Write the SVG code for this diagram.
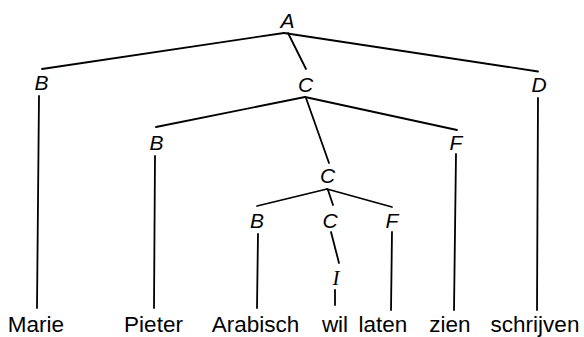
<svg xmlns="http://www.w3.org/2000/svg" width="584" height="337" viewBox="0 0 584 337">
  <style>
    .edge { stroke: #000; stroke-width: 1.8; fill: none; stroke-linecap: round; }
    .cat { font-family: "Liberation Sans", Arial, sans-serif; font-style: italic; font-size: 21px; fill: #000; text-anchor: middle; }
    .cat-serif { font-family: "Liberation Serif", "Times New Roman", serif; font-style: italic; font-size: 21px; fill: #000; text-anchor: middle; }
    .word { font-family: "Liberation Sans", Arial, sans-serif; font-size: 22.5px; fill: #000; text-anchor: middle; }
  </style>
  <rect width="584" height="337" fill="#fff"/>

  <!-- connectors -->
  <g id="connectors" class="edge">
    <!-- A -->
    <line x1="284" y1="33" x2="42" y2="69"/>
    <line x1="284" y1="33" x2="538" y2="71.5"/>
    <line x1="288" y1="33" x2="306" y2="69"/>
    <!-- C (level 2) -->
    <line x1="305" y1="97" x2="156" y2="127"/>
    <line x1="305" y1="97" x2="457" y2="130"/>
    <line x1="306" y1="98" x2="329" y2="163"/>
    <!-- C (level 4) -->
    <line x1="327" y1="189" x2="257" y2="206"/>
    <line x1="327" y1="189" x2="392" y2="207"/>
    <line x1="328" y1="190" x2="333" y2="205"/>
    <!-- C to I -->
    <line x1="331" y1="232" x2="339" y2="263"/>
    <!-- leaves -->
    <line x1="39" y1="96" x2="37" y2="308"/>
    <line x1="155" y1="156" x2="154" y2="308"/>
    <line x1="258" y1="234" x2="257" y2="308"/>
    <line x1="335" y1="290" x2="335" y2="305"/>
    <line x1="392" y1="232" x2="391" y2="310"/>
    <line x1="456" y1="154" x2="454" y2="310"/>
    <line x1="538" y1="98" x2="537" y2="310"/>
  </g>

  <!-- category nodes -->
  <g id="n-A"><text class="cat" x="287.5" y="27.5">A</text></g>
  <g id="n-B1"><text class="cat" x="41.5" y="90">B</text></g>
  <g id="n-C1"><text class="cat" x="305.5" y="92">C</text></g>
  <g id="n-D"><text class="cat" x="539" y="92">D</text></g>
  <g id="n-B2"><text class="cat" x="156.5" y="150">B</text></g>
  <g id="n-F1"><text class="cat" x="456" y="150">F</text></g>
  <g id="n-C2"><text class="cat" x="327.5" y="183">C</text></g>
  <g id="n-B3"><text class="cat" x="257" y="228">B</text></g>
  <g id="n-C3"><text class="cat" x="330" y="228">C</text></g>
  <g id="n-F2"><text class="cat" x="392" y="228">F</text></g>
  <g id="n-I"><text class="cat-serif" x="336" y="285">I</text></g>

  <!-- word nodes -->
  <g id="w-marie"><text class="word" x="36" y="332">Marie</text></g>
  <g id="w-pieter"><text class="word" x="153.5" y="332">Pieter</text></g>
  <g id="w-arabisch"><text class="word" x="255.5" y="332">Arabisch</text></g>
  <g id="w-wil"><text class="word" x="335" y="332">wil</text></g>
  <g id="w-laten"><text class="word" x="383" y="332">laten</text></g>
  <g id="w-zien"><text class="word" x="450" y="332">zien</text></g>
  <g id="w-schrijven"><text class="word" x="535" y="332">schrijven</text></g>
</svg>
